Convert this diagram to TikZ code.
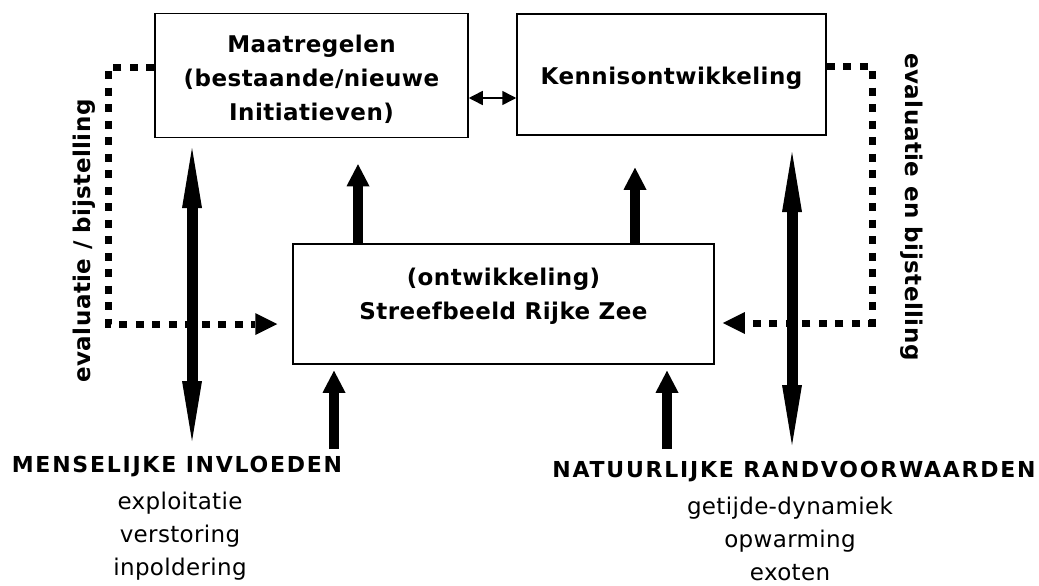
\documentclass[tikz,border=0pt]{standalone}
\usepackage{fontspec}
\usepackage{tikz}
\usetikzlibrary{arrows.meta, calc}
\setmainfont{DejaVu Sans}
\newfontfamily\boxfont[LetterSpace=2]{DejaVu Sans}
\newfontfamily\headfont[LetterSpace=8]{DejaVu Sans}
\newfontfamily\itemfont[LetterSpace=1.5]{DejaVu Sans}

\begin{document}
\begin{tikzpicture}[x=1pt, y=-1pt,
    box/.style={draw, line width=1.5pt, rectangle},
    boxtext/.style={align=center, font=\fontsize{23}{34}\selectfont\boxfont\bfseries},
    heading/.style={font=\fontsize{22}{33}\selectfont\headfont\bfseries},
    items/.style={align=center, font=\fontsize{23}{33}\selectfont\itemfont},
    fat/.style={line width=10pt, -{Triangle[width=23pt,length=22pt,line width=0pt]}},
    long/.style={line width=11pt, {Triangle[width=20pt,length=60pt,line width=0pt]}-{Triangle[width=20pt,length=60pt,line width=0pt]}},
    dots/.style={line width=7pt, dash pattern=on 8pt off 8.5pt, -{Triangle[width=22pt,length=22pt,line width=0pt]}},
    thin/.style={line width=1.5pt, {Triangle[width=14pt,length=14pt]}-{Triangle[width=14pt,length=14pt]}}]
    \useasboundingbox (0,0) rectangle (1039,586);

    % Boxes
    \node[box, minimum width=313pt, minimum height=124pt] (maat) at (311.5,75.5) {};
    \node[boxtext] (maattxt) at (311.5,79) {Maatregelen\\(bestaande/nieuwe\\Initiatieven)};
    \node[box, minimum width=309pt, minimum height=121pt] (kennis) at (671.5,74.5) {};
    \node[boxtext] (kennistxt) at (671.5,78) {Kennisontwikkeling};
    \node[box, minimum width=421pt, minimum height=120pt] (streef) at (503.5,304) {};
    \node[boxtext] (streeftxt) at (503.5,296) {(ontwikkeling)\\Streefbeeld Rijke Zee};

    % Side labels
    \node[boxtext, rotate=90] (evalL) at (84,241) {evaluatie / bijstelling};
    \node[boxtext, rotate=-90] (evalR) at (912,207) {evaluatie en bijstelling};

    % Influences
    \node[heading] (mens) at (177,467) {MENSELIJKE INVLOEDEN};
    \node[items] (mensitems) at (180,536) {exploitatie\\verstoring\\inpoldering};
    \node[heading] (natuur) at (794,472) {NATUURLIJKE RANDVOORWAARDEN};
    \node[items] (natuuritems) at (790,539) {getijde-dynamiek\\opwarming\\exoten};

    % Free ends of the arrows and feedback corners
    \coordinate (mensTop) at (192,148);
    \coordinate (mensBot) at (192,441);
    \coordinate (natTop) at (792,152);
    \coordinate (natBot) at (792,445);
    \coordinate (baseL) at (334,449);
    \coordinate (baseR) at (667,449);
    \coordinate (fbL) at (108,324);
    \coordinate (fbR) at (872,323);

    % Relationships
    \draw[thin] (maat.east |- 0,98) -- (kennis.west |- 0,98);
    \draw[fat, shorten >=26pt] (streef.north -| 358,0) -- (maat.south -| 358,0);
    \draw[fat, shorten >=32pt] (streef.north -| 635,0) -- (kennis.south -| 635,0);
    \draw[fat, shorten >=6pt] (baseL) -- (streef.south -| baseL);
    \draw[fat, shorten >=6pt] (baseR) -- (streef.south -| baseR);
    \draw[long] (mensTop) -- (mensBot);
    \draw[long] (natTop) -- (natBot);
    \draw[dots, shorten >=15pt] (maat.west |- 0,68) -| (fbL) -- (streef.west |- fbL);
    \draw[dots, shorten >=8pt] (kennis.east |- 0,67) -| (fbR) -- (streef.east |- fbR);
\end{tikzpicture}
\end{document}
